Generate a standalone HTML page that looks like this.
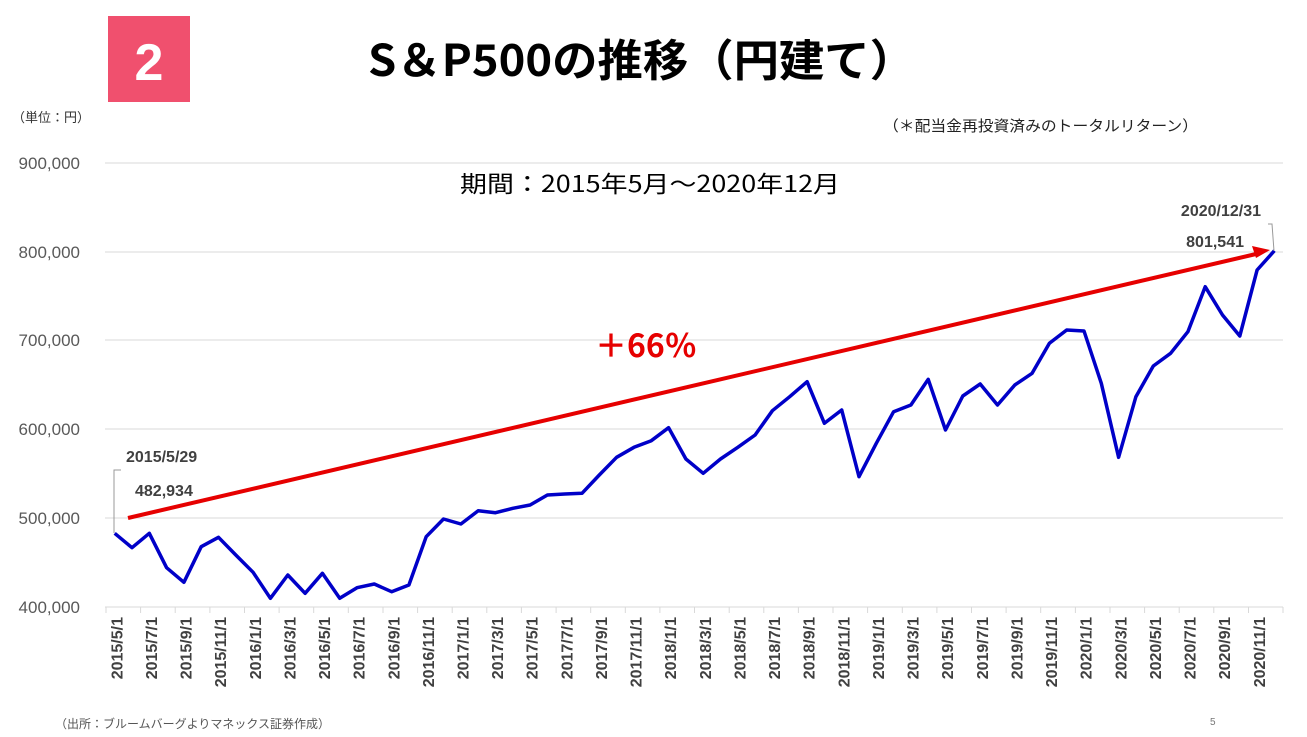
<!DOCTYPE html>
<html><head><meta charset="utf-8"><style>
body{margin:0;background:#fff;}
svg{display:block;font-family:"Liberation Sans","Noto Sans CJK JP",sans-serif;}
</style></head><body>
<svg width="1307" height="737" viewBox="0 0 1307 737" xmlns="http://www.w3.org/2000/svg">
<rect x="108" y="16" width="82" height="86" fill="#f0506e"/>
<text x="149" y="80" font-size="52" font-weight="bold" fill="#fff" text-anchor="middle">2</text>
<text x="368" y="76" font-size="44" font-weight="bold" fill="#000" textLength="547" lengthAdjust="spacingAndGlyphs" font-family="'Noto Sans CJK JP',sans-serif">S＆P500の推移（円建て）</text>
<text x="12" y="122" font-size="13" fill="#333" font-family="'Noto Sans CJK JP',sans-serif">（単位：円）</text>
<text x="883" y="131" font-size="15" fill="#222" textLength="315" lengthAdjust="spacingAndGlyphs" font-family="'Noto Sans CJK JP',sans-serif">（＊配当金再投資済みのトータルリターン）</text>
<text x="460" y="192" font-size="23" fill="#000" textLength="380" lengthAdjust="spacingAndGlyphs" font-family="'Noto Sans CJK JP',sans-serif">期間：2015年5月～2020年12月</text>
<g stroke="#d9d9d9" stroke-width="1">
<line x1="105" y1="163" x2="1283" y2="163"/><line x1="105" y1="252" x2="1283" y2="252"/>
<line x1="105" y1="340" x2="1283" y2="340"/><line x1="105" y1="429" x2="1283" y2="429"/>
<line x1="105" y1="518" x2="1283" y2="518"/><line x1="105" y1="607" x2="1283" y2="607"/>
</g>
<g font-size="17" fill="#595959" text-anchor="end">
<text x="80" y="169">900,000</text><text x="80" y="258">800,000</text><text x="80" y="346">700,000</text>
<text x="80" y="435">600,000</text><text x="80" y="524">500,000</text><text x="80" y="613">400,000</text>
</g>
<path stroke="#d9d9d9" fill="none" d="M106 607v6M140.6 607v6M175.2 607v6M209.9 607v6M244.5 607v6M279.1 607v6M313.7 607v6M348.3 607v6M383 607v6M417.6 607v6M452.2 607v6M486.8 607v6M521.4 607v6M556.1 607v6M590.7 607v6M625.3 607v6M659.9 607v6M694.5 607v6M729.2 607v6M763.8 607v6M798.4 607v6M833 607v6M867.6 607v6M902.3 607v6M936.9 607v6M971.5 607v6M1006.1 607v6M1040.7 607v6M1075.4 607v6M1110 607v6M1144.6 607v6M1179.2 607v6M1213.8 607v6M1248.5 607v6M1283 607v6"/>
<g font-size="16" font-weight="bold" fill="#404040" text-anchor="end">
<text transform="translate(122.3,617) rotate(-90)">2015/5/1</text>
<text transform="translate(156.9,617) rotate(-90)">2015/7/1</text>
<text transform="translate(191.5,617) rotate(-90)">2015/9/1</text>
<text transform="translate(226.2,617) rotate(-90)">2015/11/1</text>
<text transform="translate(260.8,617) rotate(-90)">2016/1/1</text>
<text transform="translate(295.4,617) rotate(-90)">2016/3/1</text>
<text transform="translate(330.0,617) rotate(-90)">2016/5/1</text>
<text transform="translate(364.6,617) rotate(-90)">2016/7/1</text>
<text transform="translate(399.3,617) rotate(-90)">2016/9/1</text>
<text transform="translate(433.9,617) rotate(-90)">2016/11/1</text>
<text transform="translate(468.5,617) rotate(-90)">2017/1/1</text>
<text transform="translate(503.1,617) rotate(-90)">2017/3/1</text>
<text transform="translate(537.7,617) rotate(-90)">2017/5/1</text>
<text transform="translate(572.4,617) rotate(-90)">2017/7/1</text>
<text transform="translate(607.0,617) rotate(-90)">2017/9/1</text>
<text transform="translate(641.6,617) rotate(-90)">2017/11/1</text>
<text transform="translate(676.2,617) rotate(-90)">2018/1/1</text>
<text transform="translate(710.8,617) rotate(-90)">2018/3/1</text>
<text transform="translate(745.5,617) rotate(-90)">2018/5/1</text>
<text transform="translate(780.1,617) rotate(-90)">2018/7/1</text>
<text transform="translate(814.7,617) rotate(-90)">2018/9/1</text>
<text transform="translate(849.3,617) rotate(-90)">2018/11/1</text>
<text transform="translate(883.9,617) rotate(-90)">2019/1/1</text>
<text transform="translate(918.6,617) rotate(-90)">2019/3/1</text>
<text transform="translate(953.2,617) rotate(-90)">2019/5/1</text>
<text transform="translate(987.8,617) rotate(-90)">2019/7/1</text>
<text transform="translate(1022.4,617) rotate(-90)">2019/9/1</text>
<text transform="translate(1057.0,617) rotate(-90)">2019/11/1</text>
<text transform="translate(1091.7,617) rotate(-90)">2020/1/1</text>
<text transform="translate(1126.3,617) rotate(-90)">2020/3/1</text>
<text transform="translate(1160.9,617) rotate(-90)">2020/5/1</text>
<text transform="translate(1195.5,617) rotate(-90)">2020/7/1</text>
<text transform="translate(1230.1,617) rotate(-90)">2020/9/1</text>
<text transform="translate(1264.8,617) rotate(-90)">2020/11/1</text>
</g>
<polyline fill="none" stroke="#0000c8" stroke-width="3.5" stroke-linejoin="round" points="114.7,533.3 132.0,547.7 149.3,533.3 166.6,567.7 183.9,582.3 201.2,546.7 218.5,537.3 235.8,555 253.1,572.3 270.4,598.3 287.8,575 305.1,593.3 322.4,573.3 339.7,598.3 357.0,587.7 374.3,584 391.6,591.7 408.9,585 426.2,536.7 443.5,519 460.9,524 478.2,510.7 495.5,512.7 512.8,508.3 530.1,505 547.4,495 564.7,494 582.0,493.3 599.3,475 616.6,457.3 634.0,447.3 651.3,440.7 668.6,427.7 685.9,459 703.2,473.3 720.5,459 737.8,447.3 755.1,435 772.4,410.7 789.7,396.7 807.1,381.7 824.4,423.3 841.7,410 859.0,476.7 876.3,443.3 893.6,411.7 910.9,405 928.2,379.3 945.5,430 962.8,396 980.2,384 997.5,405 1014.8,385 1032.1,373.3 1049.4,343.3 1066.7,330 1084.0,331 1101.3,383.3 1118.6,457.3 1135.9,396.7 1153.3,366 1170.6,353.3 1187.9,331.7 1205.2,286.7 1222.5,315 1239.8,336 1257.1,270 1274.4,250.7"/>
<line x1="128" y1="518" x2="1256" y2="254" stroke="#e60000" stroke-width="4"/>
<polygon points="1270,250 1252,246 1256,258" fill="#e60000"/>
<polyline points="121,470 114,470 114,533" fill="none" stroke="#999" stroke-width="1"/>
<polyline points="1268,224 1272,224 1274,251" fill="none" stroke="#999" stroke-width="1"/>
<text x="126" y="462" font-size="16" font-weight="bold" fill="#404040">2015/5/29</text>
<text x="135" y="496" font-size="16" font-weight="bold" fill="#404040">482,934</text>
<text x="1261" y="216" font-size="16" font-weight="bold" fill="#404040" text-anchor="end">2020/12/31</text>
<text x="1244" y="247" font-size="16" font-weight="bold" fill="#404040" text-anchor="end">801,541</text>
<text x="595" y="357" font-size="32" font-weight="bold" fill="#e60000" font-family="'Noto Sans CJK JP',sans-serif">＋66％</text>
<text x="55" y="728" font-size="12" fill="#555" font-family="'Noto Sans CJK JP',sans-serif">（出所：ブルームバーグよりマネックス証券作成）</text>
<text x="1210" y="725" font-size="10" fill="#777">5</text>
</svg>
</body></html>
